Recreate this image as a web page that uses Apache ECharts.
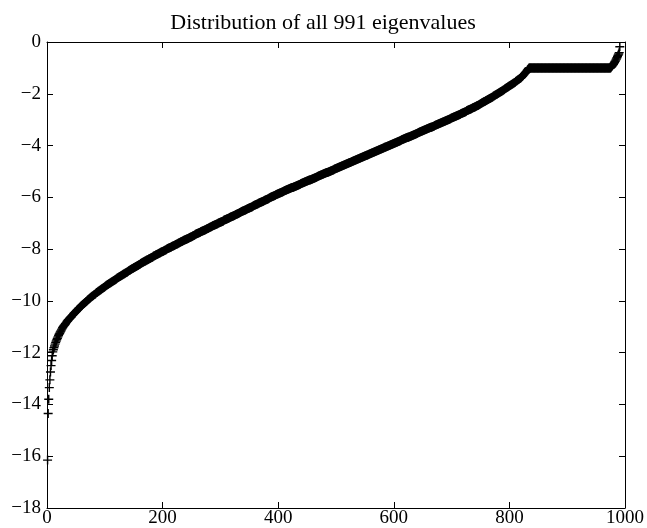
<!DOCTYPE html>
<html><head><meta charset="utf-8">
<script src="https://cdn.jsdelivr.net/npm/echarts@6/dist/echarts.min.js"></script>
<style>html,body{margin:0;padding:0;background:#fff}#c{width:647px;height:528px}</style>
</head><body><div id="c"></div><script>
const titleText = 'Distribution of all 991 eigenvalues';
const xTicks = [0, 200, 400, 600, 800, 1000];
const yTicks = [-18, -16, -14, -12, -10, -8, -6, -4, -2, 0];

// eigenvalues 1..200
const eigLow = [
-16.15,-14.35,-13.80,-13.35,-13.05,-12.75,-12.50,-12.30,-12.12,-11.97,
-11.89,-11.81,-11.74,-11.67,-11.61,-11.55,-11.49,-11.44,-11.39,-11.34,
-11.29,-11.25,-11.20,-11.16,-11.12,-11.08,-11.04,-11.00,-10.97,-10.94,
-10.91,-10.88,-10.85,-10.82,-10.79,-10.76,-10.73,-10.71,-10.68,-10.66,
-10.63,-10.61,-10.58,-10.56,-10.53,-10.51,-10.48,-10.46,-10.43,-10.41,
-10.39,-10.36,-10.34,-10.32,-10.29,-10.27,-10.25,-10.23,-10.20,-10.18,
-10.16,-10.14,-10.12,-10.10,-10.08,-10.06,-10.04,-10.02,-10.00,-9.98,
-9.96,-9.94,-9.92,-9.90,-9.88,-9.86,-9.84,-9.82,-9.81,-9.79,
-9.77,-9.75,-9.74,-9.72,-9.70,-9.68,-9.67,-9.65,-9.63,-9.62,
-9.60,-9.58,-9.57,-9.55,-9.53,-9.52,-9.50,-9.48,-9.47,-9.45,
-9.43,-9.42,-9.40,-9.39,-9.37,-9.36,-9.34,-9.33,-9.31,-9.30,
-9.28,-9.27,-9.25,-9.24,-9.22,-9.21,-9.19,-9.18,-9.16,-9.15,
-9.13,-9.12,-9.10,-9.09,-9.07,-9.06,-9.05,-9.03,-9.02,-9.00,
-8.99,-8.97,-8.96,-8.95,-8.93,-8.92,-8.90,-8.89,-8.88,-8.86,
-8.85,-8.83,-8.82,-8.81,-8.79,-8.78,-8.76,-8.75,-8.74,-8.72,
-8.71,-8.70,-8.68,-8.67,-8.66,-8.64,-8.63,-8.62,-8.60,-8.59,
-8.58,-8.56,-8.55,-8.54,-8.52,-8.51,-8.50,-8.48,-8.47,-8.46,
-8.45,-8.43,-8.42,-8.41,-8.40,-8.38,-8.37,-8.36,-8.35,-8.33,
-8.32,-8.31,-8.30,-8.28,-8.27,-8.26,-8.25,-8.23,-8.22,-8.21,
-8.20,-8.19,-8.17,-8.16,-8.15,-8.14,-8.12,-8.11,-8.10,-8.09
];

// eigenvalues 201..400
const eigMidA = [
-8.08,-8.07,-8.05,-8.04,-8.03,-8.02,-8.01,-7.99,-7.98,-7.97,
-7.96,-7.95,-7.94,-7.93,-7.92,-7.90,-7.89,-7.88,-7.87,-7.86,
-7.85,-7.83,-7.82,-7.81,-7.80,-7.79,-7.77,-7.76,-7.75,-7.74,
-7.73,-7.72,-7.71,-7.70,-7.69,-7.67,-7.66,-7.65,-7.64,-7.63,
-7.62,-7.61,-7.60,-7.59,-7.58,-7.56,-7.55,-7.54,-7.53,-7.52,
-7.51,-7.49,-7.48,-7.47,-7.46,-7.45,-7.43,-7.42,-7.41,-7.40,
-7.39,-7.38,-7.37,-7.36,-7.35,-7.33,-7.32,-7.31,-7.30,-7.29,
-7.28,-7.27,-7.26,-7.25,-7.24,-7.22,-7.21,-7.20,-7.19,-7.18,
-7.17,-7.16,-7.15,-7.14,-7.13,-7.11,-7.10,-7.09,-7.08,-7.07,
-7.06,-7.05,-7.04,-7.03,-7.02,-7.00,-6.99,-6.98,-6.97,-6.96,
-6.95,-6.94,-6.93,-6.92,-6.91,-6.89,-6.88,-6.87,-6.86,-6.85,
-6.84,-6.83,-6.82,-6.81,-6.80,-6.78,-6.77,-6.76,-6.75,-6.74,
-6.73,-6.72,-6.71,-6.70,-6.69,-6.67,-6.66,-6.65,-6.64,-6.63,
-6.62,-6.61,-6.60,-6.59,-6.58,-6.56,-6.55,-6.54,-6.53,-6.52,
-6.51,-6.50,-6.49,-6.48,-6.47,-6.45,-6.44,-6.43,-6.42,-6.41,
-6.40,-6.39,-6.38,-6.37,-6.36,-6.34,-6.33,-6.32,-6.31,-6.30,
-6.29,-6.28,-6.27,-6.26,-6.25,-6.23,-6.22,-6.21,-6.20,-6.19,
-6.18,-6.17,-6.16,-6.15,-6.14,-6.12,-6.11,-6.10,-6.09,-6.08,
-6.07,-6.06,-6.05,-6.04,-6.03,-6.01,-6.00,-5.99,-5.98,-5.97,
-5.96,-5.95,-5.94,-5.93,-5.92,-5.90,-5.89,-5.88,-5.87,-5.86
];

// eigenvalues 401..600
const eigMidB = [
-5.85,-5.84,-5.83,-5.82,-5.81,-5.80,-5.79,-5.78,-5.77,-5.76,
-5.75,-5.74,-5.73,-5.72,-5.71,-5.70,-5.69,-5.68,-5.67,-5.66,
-5.65,-5.64,-5.63,-5.62,-5.62,-5.61,-5.60,-5.59,-5.58,-5.57,
-5.56,-5.55,-5.54,-5.53,-5.52,-5.51,-5.50,-5.49,-5.48,-5.47,
-5.46,-5.45,-5.44,-5.43,-5.42,-5.41,-5.40,-5.39,-5.38,-5.37,
-5.36,-5.35,-5.34,-5.33,-5.33,-5.32,-5.31,-5.30,-5.29,-5.28,
-5.27,-5.26,-5.25,-5.24,-5.23,-5.22,-5.21,-5.20,-5.19,-5.18,
-5.17,-5.16,-5.15,-5.14,-5.13,-5.12,-5.11,-5.10,-5.09,-5.08,
-5.07,-5.06,-5.05,-5.04,-5.04,-5.03,-5.02,-5.01,-5.00,-4.99,
-4.98,-4.97,-4.96,-4.95,-4.94,-4.93,-4.92,-4.91,-4.90,-4.89,
-4.88,-4.87,-4.86,-4.85,-4.84,-4.83,-4.82,-4.81,-4.80,-4.79,
-4.78,-4.77,-4.76,-4.75,-4.74,-4.73,-4.72,-4.71,-4.70,-4.69,
-4.68,-4.67,-4.66,-4.65,-4.65,-4.64,-4.63,-4.62,-4.61,-4.60,
-4.59,-4.58,-4.57,-4.56,-4.55,-4.54,-4.53,-4.52,-4.51,-4.50,
-4.49,-4.48,-4.47,-4.46,-4.45,-4.44,-4.43,-4.42,-4.41,-4.40,
-4.39,-4.38,-4.37,-4.36,-4.36,-4.35,-4.34,-4.33,-4.32,-4.31,
-4.30,-4.29,-4.28,-4.27,-4.26,-4.25,-4.24,-4.23,-4.22,-4.21,
-4.20,-4.19,-4.18,-4.17,-4.16,-4.15,-4.14,-4.13,-4.12,-4.11,
-4.10,-4.09,-4.08,-4.07,-4.07,-4.06,-4.05,-4.04,-4.03,-4.02,
-4.01,-4.00,-3.99,-3.98,-3.97,-3.96,-3.95,-3.94,-3.93,-3.92
];

// eigenvalues 601..834
const eigHigh = [
-3.91,-3.90,-3.89,-3.88,-3.87,-3.86,-3.85,-3.84,-3.83,-3.82,
-3.81,-3.80,-3.79,-3.78,-3.77,-3.76,-3.75,-3.74,-3.73,-3.72,
-3.71,-3.70,-3.69,-3.68,-3.68,-3.67,-3.66,-3.65,-3.64,-3.63,
-3.62,-3.61,-3.60,-3.59,-3.58,-3.57,-3.56,-3.55,-3.54,-3.53,
-3.52,-3.51,-3.50,-3.49,-3.48,-3.47,-3.46,-3.45,-3.44,-3.43,
-3.42,-3.41,-3.40,-3.39,-3.38,-3.37,-3.36,-3.35,-3.34,-3.33,
-3.32,-3.31,-3.30,-3.29,-3.29,-3.28,-3.27,-3.26,-3.25,-3.24,
-3.23,-3.22,-3.21,-3.20,-3.19,-3.18,-3.17,-3.16,-3.15,-3.14,
-3.13,-3.12,-3.11,-3.10,-3.09,-3.08,-3.07,-3.06,-3.05,-3.04,
-3.03,-3.02,-3.01,-3.00,-2.99,-2.98,-2.97,-2.96,-2.95,-2.94,
-2.93,-2.92,-2.91,-2.90,-2.89,-2.88,-2.87,-2.86,-2.85,-2.84,
-2.83,-2.82,-2.81,-2.80,-2.79,-2.77,-2.76,-2.75,-2.74,-2.73,
-2.72,-2.71,-2.70,-2.69,-2.68,-2.66,-2.65,-2.64,-2.63,-2.62,
-2.61,-2.60,-2.59,-2.58,-2.57,-2.55,-2.54,-2.53,-2.52,-2.51,
-2.50,-2.49,-2.47,-2.46,-2.45,-2.44,-2.43,-2.41,-2.40,-2.39,
-2.38,-2.36,-2.35,-2.34,-2.32,-2.31,-2.30,-2.29,-2.27,-2.26,
-2.25,-2.23,-2.22,-2.21,-2.19,-2.18,-2.17,-2.16,-2.14,-2.13,
-2.12,-2.10,-2.09,-2.08,-2.06,-2.05,-2.03,-2.02,-2.01,-1.99,
-1.98,-1.96,-1.95,-1.93,-1.92,-1.91,-1.89,-1.88,-1.86,-1.85,
-1.83,-1.82,-1.80,-1.79,-1.77,-1.76,-1.74,-1.73,-1.71,-1.70,
-1.68,-1.67,-1.65,-1.64,-1.62,-1.61,-1.59,-1.58,-1.56,-1.55,
-1.53,-1.51,-1.50,-1.48,-1.46,-1.45,-1.43,-1.41,-1.40,-1.38,
-1.36,-1.33,-1.31,-1.28,-1.26,-1.23,-1.21,-1.18,-1.16,-1.13,
-1.09,-1.06,-1.03,-1.00
];

// eigenvalues 835..975 (plateau)
const eigFlat = [
-1,-1,-1,-1,-1,-1,-1,-1,-1,-1,
-1,-1,-1,-1,-1,-1,-1,-1,-1,-1,
-1,-1,-1,-1,-1,-1,-1,-1,-1,-1,
-1,-1,-1,-1,-1,-1,-1,-1,-1,-1,
-1,-1,-1,-1,-1,-1,-1,-1,-1,-1,
-1,-1,-1,-1,-1,-1,-1,-1,-1,-1,
-1,-1,-1,-1,-1,-1,-1,-1,-1,-1,
-1,-1,-1,-1,-1,-1,-1,-1,-1,-1,
-1,-1,-1,-1,-1,-1,-1,-1,-1,-1,
-1,-1,-1,-1,-1,-1,-1,-1,-1,-1,
-1,-1,-1,-1,-1,-1,-1,-1,-1,-1,
-1,-1,-1,-1,-1,-1,-1,-1,-1,-1,
-1,-1,-1,-1,-1,-1,-1,-1,-1,-1,
-1,-1,-1,-1,-1,-1,-1,-1,-1,-1,
-1
];

// eigenvalues 976..991
const eigTop = [
-0.98,-0.95,-0.92,-0.89,-0.86,-0.82,-0.78,-0.74,
-0.70,-0.66,-0.61,-0.56,-0.51,-0.46,-0.41,-0.18
];

const eigenvalues = [].concat(eigLow, eigMidA, eigMidB, eigHigh, eigFlat, eigTop);
const points = eigenvalues.map((v, i) => [i + 1, v]);

const FONT = 'Liberation Serif';
const fmtY = v => (v < 0 ? '\u2212' + Math.abs(v) : String(v));
const fmtX = v => String(v);
const axisCommon = {
  type: 'value',
  axisLine: { show: true, onZero: false, lineStyle: { color: '#000', width: 1 } },
  axisTick: { show: true, inside: true, length: 6, lineStyle: { color: '#000', width: 1 } },
  splitLine: { show: false }
};

const chart = echarts.init(document.getElementById('c'), null, { renderer: 'canvas' });
chart.setOption({
  animation: false,
  backgroundColor: '#fff',
  title: {
    text: titleText, left: 318, top: 7, textAlign: 'center',
    textStyle: { fontFamily: FONT, fontSize: 22, fontWeight: 'normal', color: '#000' }
  },
  grid: { left: 47, right: 21, top: 42, bottom: 20 },
  xAxis: [
    Object.assign({}, axisCommon, {
      position: 'bottom', min: xTicks[0], max: xTicks[xTicks.length - 1], interval: 200,
      axisLabel: { color: '#000', fontFamily: FONT, fontSize: 19, margin: 1, formatter: fmtX }
    }),
    Object.assign({}, axisCommon, {
      position: 'top', min: xTicks[0], max: xTicks[xTicks.length - 1], interval: 200,
      axisLabel: { show: false }
    })
  ],
  yAxis: [
    Object.assign({}, axisCommon, {
      position: 'left', min: yTicks[0], max: yTicks[yTicks.length - 1], interval: 2,
      axisLabel: { color: '#000', fontFamily: FONT, fontSize: 19, margin: 6, formatter: fmtY }
    }),
    Object.assign({}, axisCommon, {
      position: 'right', min: yTicks[0], max: yTicks[yTicks.length - 1], interval: 2,
      axisLabel: { show: false }
    })
  ],
  series: [{
    type: 'scatter',
    xAxisIndex: 0, yAxisIndex: 0,
    data: points,
    symbol: 'path://M0,4.2h10v1.6h-10zM4.2,0h1.6v10h-1.6z',
    symbolSize: 9,
    itemStyle: { color: '#000', opacity: 1 },
    silent: true
  }]
});
</script></body></html>
